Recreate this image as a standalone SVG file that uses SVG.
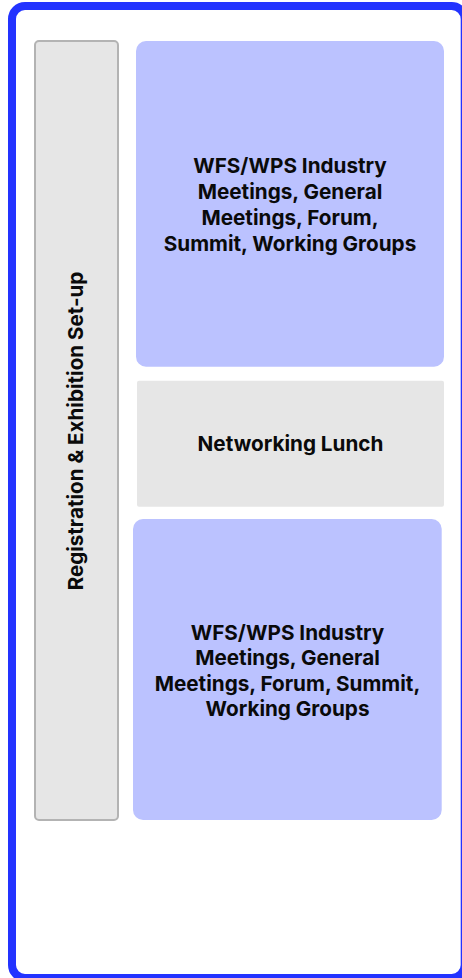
<svg xmlns="http://www.w3.org/2000/svg" width="462" height="978" viewBox="0 0 462 978">
<style>
.t{font-family:Inter,"Liberation Sans",sans-serif;font-weight:700;fill:#0a0a0a;text-anchor:middle}
.b{font-size:20.7px}
.blue{fill:#bbc2ff}
.gray{fill:#e6e6e6}
</style>
<rect width="462" height="978" fill="#ffffff"/>
<g id="frame">
<rect x="12" y="6" width="452.7" height="972" rx="13" fill="#ffffff" stroke="#2333ff" stroke-width="8"/>
</g>
<g id="registration">
<rect x="35" y="41" width="83" height="779" rx="4" class="gray" stroke="#b3b3b3" stroke-width="2"/>
<text class="t" font-size="20.6" transform="translate(77,431) rotate(-90)" y="6.3">Registration &amp; Exhibition Set-up</text>
</g>
<g id="morning">
<rect x="136" y="41" width="308" height="325.7" rx="10" class="blue"/>
<text class="t b"><tspan x="290" y="172.5">WFS/WPS Industry</tspan><tspan x="290" y="198.5">Meetings, General</tspan><tspan x="290" y="224.5">Meetings, Forum,</tspan><tspan x="290" y="250.5">Summit, Working Groups</tspan></text>
</g>
<g id="lunch">
<rect x="137" y="380.7" width="307" height="126" rx="2" class="gray"/>
<text class="t b" x="290.5" y="451">Networking Lunch</text>
</g>
<g id="afternoon">
<rect x="133" y="519" width="308.7" height="301" rx="10" class="blue"/>
<text class="t b"><tspan x="287.5" y="639.5">WFS/WPS Industry</tspan><tspan x="287.5" y="665">Meetings, General</tspan><tspan x="287.5" y="690.5">Meetings, Forum, Summit,</tspan><tspan x="287.5" y="716">Working Groups</tspan></text>
</g>
<g id="connectors"></g>
</svg>
